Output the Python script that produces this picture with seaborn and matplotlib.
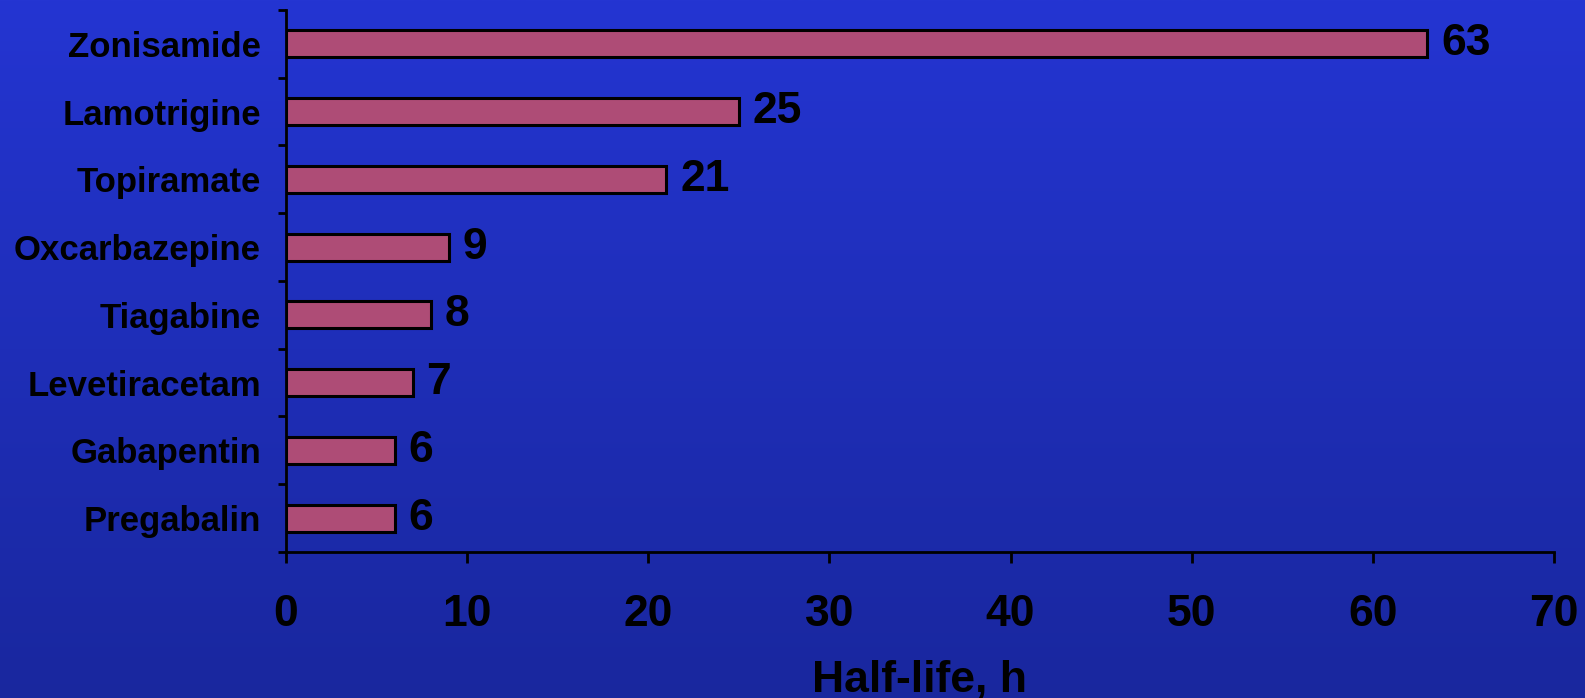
import numpy as np
import pandas as pd
import seaborn as sns
import matplotlib.pyplot as plt
from matplotlib.colors import LinearSegmentedColormap

drugs = ["Zonisamide", "Lamotrigine", "Topiramate", "Oxcarbazepine",
         "Tiagabine", "Levetiracetam", "Gabapentin", "Pregabalin"]
half_life = [63, 25, 21, 9, 8, 7, 6, 6]
xticks = [0, 10, 20, 30, 40, 50, 60, 70]

df = pd.DataFrame({"drug": drugs, "half_life": half_life})

sns.set_style("ticks")
plt.rcParams["font.family"] = ["Liberation Sans", "DejaVu Sans"]
plt.rcParams["font.weight"] = "bold"
for key in ["text.color", "axes.labelcolor", "xtick.color", "ytick.color"]:
    plt.rcParams[key] = "black"

fig = plt.figure(figsize=(15.85, 6.98), dpi=100)

# blue gradient background
bg = fig.add_axes([0, 0, 1, 1], zorder=-10)
cmap = LinearSegmentedColormap.from_list("bg", ["#2435D2", "#19279E"])
bg.imshow(np.linspace(0, 1, 256).reshape(-1, 1), aspect="auto", cmap=cmap,
          extent=[0, 1, 0, 1])
bg.axis("off")

ax = fig.add_axes([0.1804, 0.2092, 0.8, 0.7765])
ax.patch.set_alpha(0)
sns.barplot(data=df, x="half_life", y="drug", orient="h", color="#AE4C76",
            saturation=1, width=0.4, edgecolor="black", linewidth=2.2, ax=ax)

ax.set_xlim(0, 70)
ax.set_ylim(7.5, -0.5)
ax.set_xticks(xticks)
ax.set_xticklabels([str(t) for t in xticks], fontsize=32, fontweight="bold")
ax.tick_params(axis="x", length=8, width=2, pad=22, colors="black")
ax.tick_params(axis="y", which="major", length=0, pad=18, labelsize=25,
               colors="black")
ax.set_yticks(np.arange(-0.5, 8, 1), minor=True)
ax.tick_params(axis="y", which="minor", length=6, width=2, colors="black")
for lbl in ax.get_yticklabels():
    lbl.set_fontweight("bold")

for side in ["top", "right"]:
    ax.spines[side].set_visible(False)
for side in ["left", "bottom"]:
    ax.spines[side].set_linewidth(2)
    ax.spines[side].set_color("black")

ax.bar_label(ax.containers[0], labels=[str(v) for v in half_life],
             padding=10, fontsize=32, fontweight="bold", color="black")

ax.set_ylabel("")
ax.set_xlabel("Half-life, h", fontsize=32, fontweight="bold", labelpad=18,
              color="black")

fig.savefig("out.png", dpi=100)
